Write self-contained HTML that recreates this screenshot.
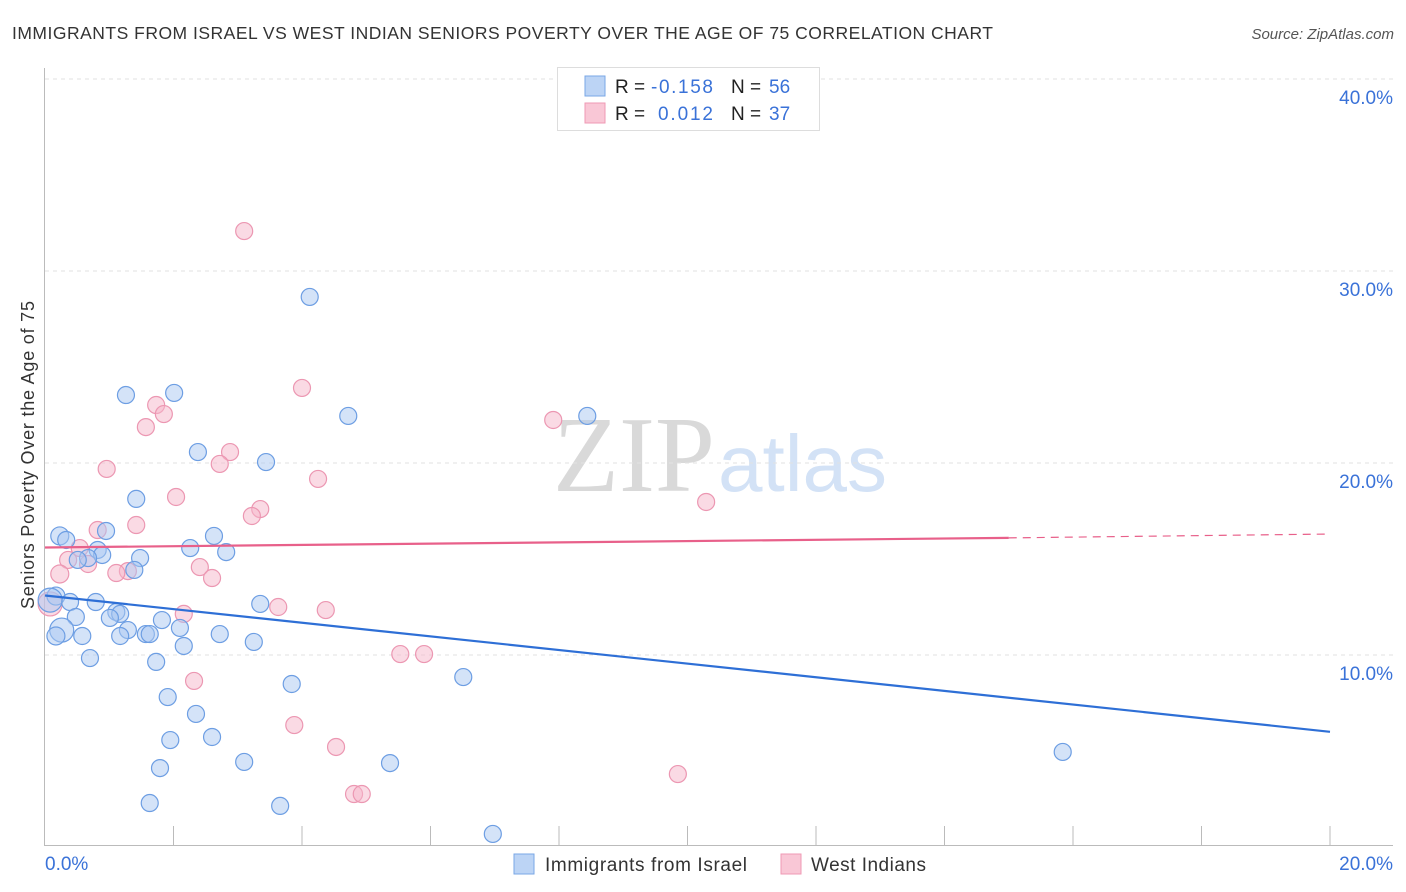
<!DOCTYPE html>
<html><head><meta charset="utf-8"><style>
body{margin:0;background:#fff;font-family:"Liberation Sans",sans-serif;}
#wrap{position:relative;width:1406px;height:892px;overflow:hidden;}
</style></head><body><div id="wrap">
<svg id="chart" width="1406" height="892" xmlns="http://www.w3.org/2000/svg">
<text x="12" y="39" font-size="17.5" fill="#333" textLength="981" lengthAdjust="spacing">IMMIGRANTS FROM ISRAEL VS WEST INDIAN SENIORS POVERTY OVER THE AGE OF 75 CORRELATION CHART</text>
<text x="1394" y="39" font-size="15" fill="#555" font-style="italic" text-anchor="end">Source: ZipAtlas.com</text>
<text x="34" y="455" font-size="18" fill="#333" text-anchor="middle" textLength="308" lengthAdjust="spacing" transform="rotate(-90 34 455)">Seniors Poverty Over the Age of 75</text>
<g>
<text x="553" y="491" font-family="Liberation Serif,serif" font-size="108" fill="#d9d9d9">ZIP</text>
<text x="718" y="491" font-size="80" fill="#d3e2f6">atlas</text>
</g>
<g id="grid"></g><g id="axes"></g><g id="pts"></g><g id="trend"></g>
<g>
<rect x="557.5" y="67.5" width="262" height="63" fill="#fff" stroke="#ddd"/>
<rect x="585" y="76" width="20" height="20" fill="#bcd4f5" stroke="#7aa7e6"/>
<rect x="585" y="103" width="20" height="20" fill="#f9c7d6" stroke="#ef9ab4"/>
<text x="615" y="93" font-size="19" fill="#222">R = <tspan x="651" fill="#3a72d8" textLength="62">-0.158</tspan><tspan x="731">N = </tspan><tspan x="769" fill="#3a72d8">56</tspan></text>
<text x="615" y="120" font-size="19" fill="#222">R = <tspan x="658" fill="#3a72d8" textLength="55">0.012</tspan><tspan x="731">N = </tspan><tspan x="769" fill="#3a72d8">37</tspan></text>
</g>
<g>
<rect x="514" y="854" width="20" height="20" fill="#bcd4f5" stroke="#7aa7e6"/>
<text x="545" y="871" font-size="19" fill="#333" textLength="202" lengthAdjust="spacing">Immigrants from Israel</text>
<rect x="781" y="854" width="20" height="20" fill="#f9c7d6" stroke="#ef9ab4"/>
<text x="811" y="871" font-size="19" fill="#333" textLength="115" lengthAdjust="spacing">West Indians</text>
</g>
</svg>
<script>
const blueX=[4.12,1.26,2.01,4.72,8.44,2.38,3.44,1.42,0.23,0.33,0.95,2.63,2.26,2.82,0.82,0.89,0.67,0.51,1.48,1.39,0.17,0.39,0.79,3.35,1.11,1.17,1.01,1.82,0.48,2.10,1.29,0.26,1.57,1.63,1.17,0.58,0.17,2.72,3.25,2.16,0.70,1.73,3.84,6.51,1.91,2.35,2.60,1.95,3.10,5.37,1.79,15.84,1.63,3.66,6.97,0.08];
const blueY=[28.65,23.54,23.65,22.45,22.45,20.57,20.05,18.13,16.20,15.99,16.46,16.20,15.57,15.36,15.47,15.21,15.05,14.95,15.05,14.43,13.07,12.76,12.76,12.66,12.24,12.14,11.93,11.82,11.98,11.41,11.30,11.30,11.09,11.09,10.99,10.99,10.99,11.09,10.68,10.47,9.84,9.64,8.49,8.85,7.81,6.93,5.73,5.57,4.43,4.37,4.11,4.95,2.29,2.14,0.68,12.86];
const pinkX=[3.10,9.10,4.00,1.73,1.85,1.57,7.91,2.88,0.96,2.72,4.25,2.04,10.29,3.35,3.22,1.42,0.82,0.54,0.36,0.67,1.29,1.11,2.41,2.60,0.23,0.08,2.16,3.63,4.37,5.53,5.90,2.32,3.88,4.53,9.85,4.81,4.93];
const pinkY=[32.08,39.95,23.91,23.02,22.55,21.87,22.24,20.57,19.69,19.95,19.17,18.23,17.97,17.60,17.24,16.77,16.51,15.57,14.95,14.74,14.37,14.27,14.58,14.01,14.22,12.66,12.14,12.50,12.34,10.05,10.05,8.65,6.35,5.21,3.80,2.76,2.76];
const blueTrend=[13.1,6.0];
const pinkTrend=[15.6,16.1,16.3];
const yTicks=[10,20,30,40];
const xTickLabels=["0.0%","20.0%"];
const NS="http://www.w3.org/2000/svg";
const X=v=>45+v/20*1285, Y=v=>847-v/10*192;
function mk(t,a,p){const e=document.createElementNS(NS,t);for(const k in a)e.setAttribute(k,a[k]);p.appendChild(e);return e;}
const grid=document.getElementById('grid'),axes=document.getElementById('axes');
yTicks.forEach(t=>{
 const l=mk('line',{x1:45,x2:1393,y1:Y(t),y2:Y(t),stroke:'#e2e2e2','stroke-dasharray':'4 4'},grid);
 
 
 const tx=mk('text',{x:1393,y:Y(t)+25,'font-size':19,fill:'#3a72d8','text-anchor':'end'},axes);
 tx.textContent=t.toFixed(1)+'%';
 
 
});
mk('line',{x1:44.5,x2:44.5,y1:68,y2:845,stroke:'#bbb'},axes);
mk('line',{x1:44,x2:1393,y1:845.5,y2:845.5,stroke:'#bbb'},axes);
for(let i=1;i<=10;i++){mk('line',{x1:X(i*2),x2:X(i*2),y1:826,y2:845,stroke:'#bbb'},axes);}
const xl0=mk('text',{x:45,y:870,'font-size':19,fill:'#3a72d8'},axes);xl0.textContent=xTickLabels[0];


const xl1=mk('text',{x:1393,y:870,'font-size':19,fill:'#3a72d8','text-anchor':'end'},axes);xl1.textContent=xTickLabels[1];


const pts=document.getElementById('pts');
function draw(xs,ys,fill,stroke,name){xs.forEach((x,i)=>{
 const r=x<0.3?(i%2?12:9):8.5;
 const c=mk('circle',{cx:X(x),cy:Y(ys[i]),r:r,fill:fill,'fill-opacity':0.5,stroke:stroke,'stroke-width':1.2},pts);
 
 
});}
draw(pinkX,pinkY,'#f6b6ca','#ec97b2','point-west-indians');
draw(blueX,blueY,'#a9c8f1','#6d9ee3','point-israel');
const tr=document.getElementById('trend');
const bl=mk('line',{x1:X(0),y1:Y(blueTrend[0]),x2:X(20),y2:Y(blueTrend[1]),stroke:'#2e6fd6','stroke-width':2.2},tr);


const pl=mk('line',{x1:X(0),y1:Y(pinkTrend[0]),x2:X(15),y2:Y(pinkTrend[1]),stroke:'#e8608a','stroke-width':2.2},tr);


const pd=mk('line',{x1:X(15),y1:Y(pinkTrend[1]),x2:X(20),y2:Y(pinkTrend[2]),stroke:'#e8608a','stroke-width':1.2,'stroke-dasharray':'8 6'},tr);


</script></div></body></html>
